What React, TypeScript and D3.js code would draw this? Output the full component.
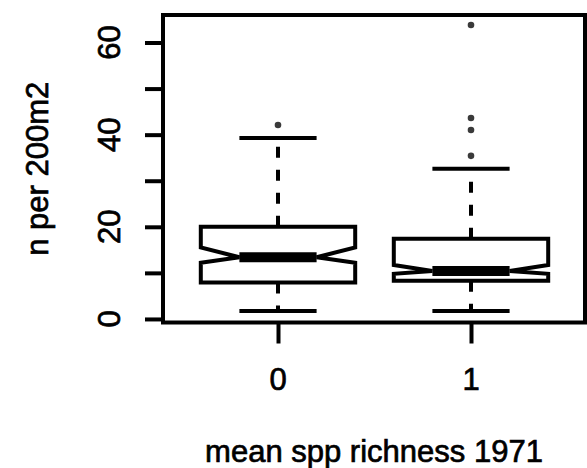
import React, { useEffect, useRef } from 'react';
import * as d3 from 'd3';

// values (R notched boxplot)
const categories = ['0', '1'];
const lowerWhisker = [1.7, 1.7];
const lowerHinge = [7.9, 8.3];
const notchLower = [12.2, 9.8];
const medianValue = [13.4, 10.4];
const notchUpper = [15.5, 11.7];
const upperHinge = [20.0, 17.4];
const upperWhisker = [39.3, 32.6];
const outliers = [[42.1], [63.8, 43.6, 41.0, 35.4]];

const yTicks = [0, 10, 20, 30, 40, 50, 60];
const yTickLabels = [0, 20, 40, 60];

const xLabel = 'mean spp richness 1971';
const yLabel = 'n per 200m2';

const FONT = '"Liberation Sans", Arial, Helvetica, sans-serif';

// text in the reference is a bit heavier than plain regular
const styleText = (sel: d3.Selection<SVGTextElement, any, any, any>) =>
  sel
    .style('font-family', FONT)
    .style('font-size', '31px')
    .attr('fill', '#000')
    .attr('stroke', '#000')
    .attr('stroke-width', 0.7);

const drawChart = (container: SVGSVGElement) => {
  const plot = { left: 163, right: 585, top: 15, bottom: 322.5 };
  const svg = d3.select(container);
  svg.selectAll('*').remove();

  const xScale = d3.scaleLinear().domain([1, 2]).range([278, 471]);
  const yScale = d3
    .scaleLinear()
    .domain([-0.77, 65.97])
    .range([plot.bottom, plot.top]);

  const halfWidth = (xScale(2) - xScale(1)) * 0.4;

  // y axis ticks
  const yAxisG = svg.append('g').attr('transform', `translate(${plot.left}, 0)`);
  yAxisG.call(
    d3
      .axisLeft(yScale)
      .tickValues(yTicks)
      .tickSize(18)
      .tickFormat(() => '')
  );
  yAxisG.select('.domain').remove();
  yAxisG.selectAll('.tick line').attr('stroke', '#000').attr('stroke-width', 4);

  yAxisG
    .selectAll('text.ylab')
    .data(yTickLabels)
    .enter()
    .append('text')
    .attr('class', 'ylab')
    .attr('transform', (d) => `translate(${120 - plot.left}, ${yScale(d)}) rotate(-90)`)
    .attr('text-anchor', 'middle')
    .call(styleText)
    .text((d) => d);

  // x axis ticks
  const xAxisG = svg.append('g').attr('transform', `translate(0, ${plot.bottom})`);
  xAxisG.call(
    d3
      .axisBottom(xScale)
      .tickValues([1, 2])
      .tickSize(21)
      .tickFormat(() => '')
  );
  xAxisG.select('.domain').remove();
  xAxisG.selectAll('.tick line').attr('stroke', '#000').attr('stroke-width', 4);

  xAxisG
    .selectAll('text.xlab')
    .data(categories)
    .enter()
    .append('text')
    .attr('class', 'xlab')
    .attr('x', (d, i) => xScale(i + 1))
    .attr('y', 390 - plot.bottom)
    .attr('text-anchor', 'middle')
    .call(styleText)
    .text((d) => d);

  // axis titles
  svg
    .append('text')
    .attr('x', (plot.left + plot.right) / 2)
    .attr('y', 461.5)
    .attr('text-anchor', 'middle')
    .call(styleText)
    .text(xLabel);

  svg
    .append('text')
    .attr('transform', `translate(47.5, ${(plot.top + plot.bottom) / 2}) rotate(-90)`)
    .attr('text-anchor', 'middle')
    .call(styleText)
    .text(yLabel);

  const boxes = svg
    .append('g')
    .selectAll('g.box')
    .data(categories)
    .enter()
    .append('g')
    .attr('class', 'box');

  // whiskers, drawn from hinge outward
  [
    [upperHinge, upperWhisker],
    [lowerHinge, lowerWhisker],
  ].forEach(([from, to]) => {
    boxes
      .append('line')
      .attr('x1', (d, i) => xScale(i + 1))
      .attr('x2', (d, i) => xScale(i + 1))
      .attr('y1', (d, i) => yScale(from[i]))
      .attr('y2', (d, i) => yScale(to[i]))
      .attr('stroke', '#000')
      .attr('stroke-width', 4)
      .attr('stroke-dasharray', '11,12');
  });

  // whisker caps
  [upperWhisker, lowerWhisker].forEach((vals) => {
    boxes
      .append('line')
      .attr('x1', (d, i) => xScale(i + 1) - halfWidth / 2)
      .attr('x2', (d, i) => xScale(i + 1) + halfWidth / 2)
      .attr('y1', (d, i) => yScale(vals[i]))
      .attr('y2', (d, i) => yScale(vals[i]))
      .attr('stroke', '#000')
      .attr('stroke-width', 4);
  });

  // notched box
  const line = d3
    .line<[number, number]>()
    .x((p) => p[0])
    .y((p) => p[1]);

  boxes
    .append('path')
    .attr('d', (d, i) => {
      const cx = xScale(i + 1);
      const w = halfWidth;
      const pts: [number, number][] = [
        [cx - w, yScale(lowerHinge[i])],
        [cx - w, yScale(notchLower[i])],
        [cx - w / 2, yScale(medianValue[i])],
        [cx - w, yScale(notchUpper[i])],
        [cx - w, yScale(upperHinge[i])],
        [cx + w, yScale(upperHinge[i])],
        [cx + w, yScale(notchUpper[i])],
        [cx + w / 2, yScale(medianValue[i])],
        [cx + w, yScale(notchLower[i])],
        [cx + w, yScale(lowerHinge[i])],
      ];
      return (line(pts) || '') + 'Z';
    })
    .attr('fill', 'none')
    .attr('stroke', '#000')
    .attr('stroke-width', 4)
    .attr('stroke-linejoin', 'miter');

  // median
  boxes
    .append('line')
    .attr('x1', (d, i) => xScale(i + 1) - halfWidth / 2)
    .attr('x2', (d, i) => xScale(i + 1) + halfWidth / 2)
    .attr('y1', (d, i) => yScale(medianValue[i]))
    .attr('y2', (d, i) => yScale(medianValue[i]))
    .attr('stroke', '#000')
    .attr('stroke-width', 10);

  // outliers
  boxes
    .selectAll('circle')
    .data((d, i) => outliers[i].map((v) => ({ v, i })))
    .enter()
    .append('circle')
    .attr('cx', (p) => xScale(p.i + 1))
    .attr('cy', (p) => yScale(p.v))
    .attr('r', 3.3)
    .attr('fill', '#3a3a3a');

  // plot frame
  svg
    .append('rect')
    .attr('x', plot.left)
    .attr('y', plot.top)
    .attr('width', plot.right - plot.left)
    .attr('height', plot.bottom - plot.top)
    .attr('fill', 'none')
    .attr('stroke', '#000')
    .attr('stroke-width', 4);
};

const App: React.FC = () => {
  const svgRef = useRef<SVGSVGElement>(null);

  useEffect(() => {
    if (svgRef.current) {
      drawChart(svgRef.current);
    }
  }, []);

  return (
    <svg
      ref={svgRef}
      width={587}
      height={468}
      style={{ position: 'absolute', left: 0, top: 0, background: '#fff' }}
    />
  );
};

export default App;
